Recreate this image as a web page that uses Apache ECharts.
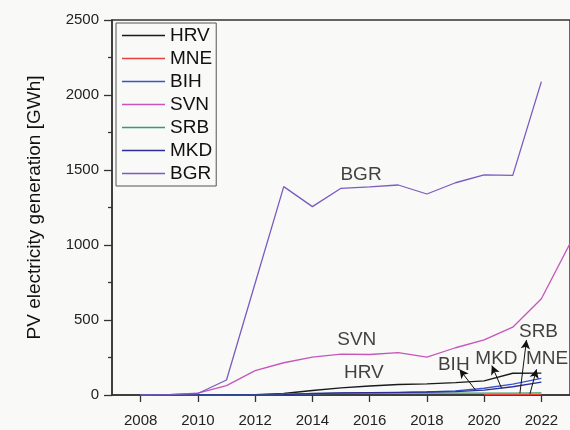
<!DOCTYPE html>
<html><head><meta charset="utf-8">
<script src="https://cdn.jsdelivr.net/npm/echarts@6/dist/echarts.min.js"></script>
<style>html,body{margin:0;padding:0;background:#f9f9f7;}#c{width:570px;height:430px;}</style>
</head><body><div id="c"></div>
<script>
const years = [2008,2009,2010,2011,2012,2013,2014,2015,2016,2017,2018,2019,2020,2021,2022,2023];
const HRV = [0,0,0,0,3,10,30,47,60,70,74,82,94,145,146,null];
const MNE = [null,null,null,null,null,null,null,null,null,null,null,null,3,3,4,null];
const BIH = [0,0,0,0,0,3,8,12,14,16,20,27,45,73,111,null];
const SVN = [0,3,12,63,162,215,253,272,270,283,252,315,368,452,642,1010];
const SRB = [0,0,0,0,1,5,9,11,12,12,13,13,13,13,14,null];
const MKD = [0,0,0,0,0,2,10,14,16,18,20,23,33,55,86,null];
const BGR = [0,2,10,100,745,1389,1256,1378,1387,1400,1340,1415,1467,1464,2089,null];
const xTicks = [2008,2010,2012,2014,2016,2018,2020,2022];
const yTicks = [0,500,1000,1500,2000,2500];
const annText = ['BGR','SVN','HRV','BIH','MKD','SRB','MNE'];
const annX = [2015.7,2015.55,2015.8,2018.94,2020.43,2021.9,2022.2];
const annY = [1467,367,147,200,242,422,242];
// arrows: [fromX, fromY, toX, toY]
const arrows = [
  [2019.70,33,2019.14,171],
  [2020.61,45,2020.27,196],
  [2021.25,11,2021.48,367],
  [2021.60,7,2021.83,171]
];
const names = ['HRV','MNE','BIH','SVN','SRB','MKD','BGR'];
const values = [HRV,MNE,BIH,SVN,SRB,MKD,BGR];
const colors = ['#1a1a1a','#e8403a','#3a55cc','#c755bb','#3f9a66','#2e2e99','#7a5cc0'];
const FF = '"Liberation Sans", Arial, sans-serif';

const series = names.map((n,i)=>({
  name:n, type:'line', symbol:'none', showSymbol:false,
  data: years.map((y,j)=>[y, values[i][j]]),
  lineStyle:{color:colors[i], width:1.3}, itemStyle:{color:colors[i]},
  connectNulls:false, silent:true, z:2
}));
series.push({
  name:'annotations', type:'scatter', symbolSize:0, silent:true, z:5,
  data: annText.map((t,i)=>({value:[annX[i],annY[i]], name:t})),
  label:{show:true, position:'inside', formatter:p=>p.name, color:'#111', fontSize:19, fontFamily:FF},
  markLine:{
    silent:true, symbol:['none','arrow'], symbolSize:[7,9],
    lineStyle:{color:'#111', width:1, type:'solid'},
    label:{show:false},
    data: arrows.map(a=>[{coord:[a[0],a[1]]},{coord:[a[2],a[3]]}])
  }
});

const chart = echarts.init(document.getElementById('c'), null, {renderer:'canvas'});
chart.setOption({
  animation:false,
  backgroundColor:'#f9f9f7',
  grid:{left:112, top:20, width:460, height:375, show:true, borderColor:'#333', borderWidth:1.5, backgroundColor:'transparent'},
  legend:{
    data:names.map(n=>({name:n, icon:'rect'})), orient:'vertical', left:116, top:23,
    padding:[3,4,3,6], itemGap:4, itemWidth:43, itemHeight:1.6,
    borderColor:'#555', borderWidth:1, backgroundColor:'#f9f9f7',
    textStyle:{fontSize:19, lineHeight:19, color:'#111', fontFamily:FF},
    selectedMode:false
  },
  xAxis:{
    type:'value', min:2007, max:2023,
    axisLine:{show:true, lineStyle:{color:'#333', width:1.5}},
    axisTick:{show:true, length:7, lineStyle:{color:'#333', width:1.3}, customValues:xTicks},
    axisLabel:{customValues:xTicks, fontSize:15, color:'#222', margin:18, fontFamily:FF, formatter:v=>String(v)},
    splitLine:{show:false}
  },
  yAxis:{
    type:'value', min:0, max:2500, interval:500,
    name:'PV electricity generation [GWh]', nameLocation:'middle', nameGap:68,
    nameTextStyle:{fontSize:19, color:'#111', fontFamily:FF},
    axisLine:{show:true, lineStyle:{color:'#333', width:1.5}},
    axisTick:{show:true, length:8, lineStyle:{color:'#333', width:1.3}},
    minorTick:{show:true, splitNumber:2, length:4, lineStyle:{color:'#333', width:1.3}},
    axisLabel:{fontSize:15, color:'#222', margin:13, fontFamily:FF,
      customValues:yTicks, formatter:v=>String(v)},
    splitLine:{show:false}
  },
  series:series
});
</script></body></html>
